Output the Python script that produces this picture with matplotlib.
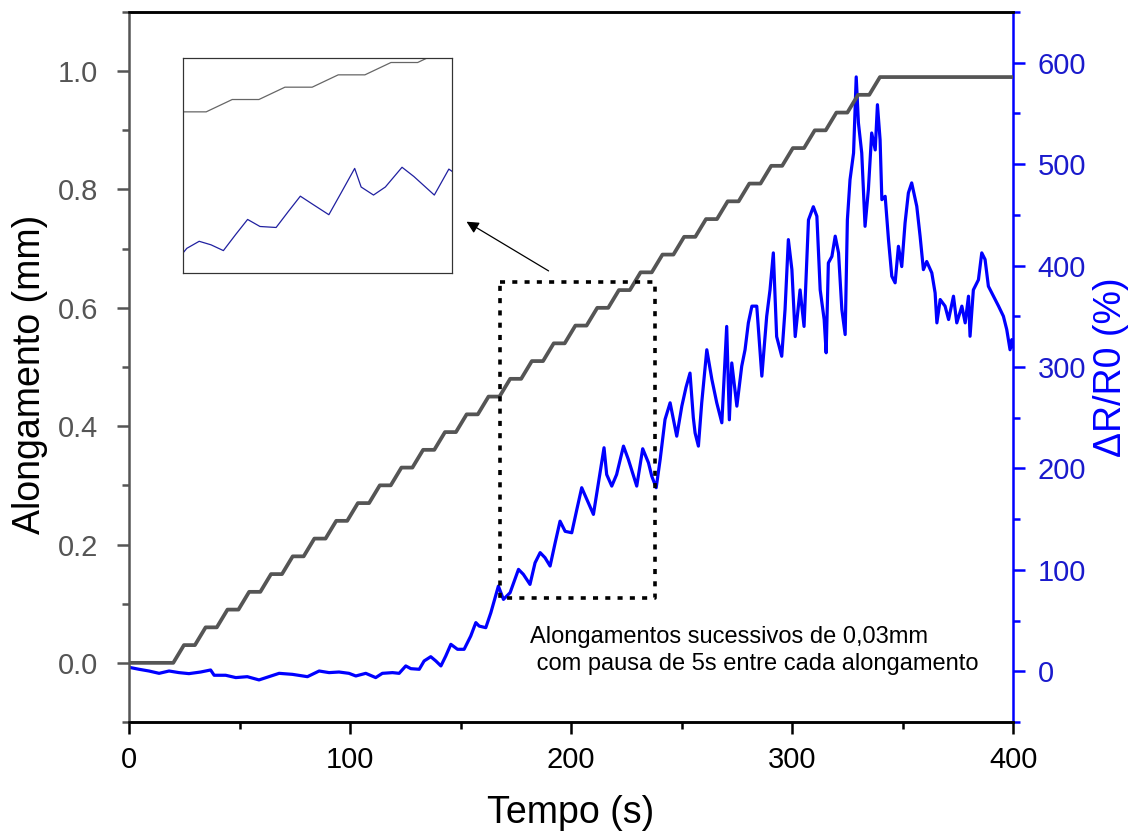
import numpy as np
import matplotlib
matplotlib.use('Agg')
import matplotlib.pyplot as plt
from matplotlib.ticker import MultipleLocator

plt.rcParams['font.family'] = ['Liberation Sans', 'DejaVu Sans']

# --- dados ---
# alongamento em degraus de 0,03 mm (inicio de cada degrau, s)
step_start = [20.0, 29.8, 39.7, 49.5, 59.4, 69.2, 79.0, 88.9, 98.7, 108.6,
              118.4, 128.2, 138.1, 147.9, 157.8, 167.6, 177.4, 187.3, 197.1, 207.0,
              216.8, 226.6, 236.5, 246.3, 256.2, 266.0, 275.8, 285.7, 295.5, 305.4,
              315.2, 325.0, 334.9]
step_level = [0.03, 0.06, 0.09, 0.12, 0.15, 0.18, 0.21, 0.24, 0.27, 0.30,
              0.33, 0.36, 0.39, 0.42, 0.45, 0.48, 0.51, 0.54, 0.57, 0.60,
              0.63, 0.66, 0.69, 0.72, 0.75, 0.78, 0.81, 0.84, 0.87, 0.90,
              0.93, 0.96, 0.99]
ramp_s = 4.84

# resposta eletrica dR/R0 (%)
time_s = [0, 0.8, 4.5, 9, 13.6, 18.1, 22.6, 27.1, 32.4, 36.9,
          38.5, 43.7, 48.3, 53.5, 58.8, 63.3, 67.9, 73.9, 80.7, 86,
          90.5, 95, 99.5, 102.6, 107.1, 111.6, 114.6, 119.2, 122.2, 125.2,
          127.5, 131.3, 133.5, 136.5, 138.8, 141.1, 143.3, 145.6, 148.6, 151.6,
          154.6, 156.9, 158.4, 161.4, 163.7, 165.2, 167.1, 169.4, 172.4, 176.2,
          178.4, 181.4, 183.7, 186, 188.2, 190.5, 192.8, 195, 197.3, 200.3,
          202.6, 204.8, 207.1, 210.1, 212.4, 214.9, 216.1, 218.4, 220.6, 223.7,
          225.9, 229.7, 232.4, 235, 236.5, 238.5, 240.3, 242.5, 244.8, 247.8,
          250.1, 252, 253.8, 255.3, 256.1, 257.6, 259.1, 261.4, 263.7, 265.9,
          268.2, 270.4, 271.6, 272.7, 275, 277.2, 278.7, 280.2, 281.8, 284,
          286.3, 288.5, 290, 291.5, 293, 295.3, 296.8, 298.3, 299.9, 301.4,
          303.6, 305.4, 307.4, 309.6, 311.2, 312.7, 314.5, 315.4, 316.4, 318,
          319.5, 321, 322.5, 324, 325, 326.2, 327.8, 329, 330, 331.5,
          333, 334.5, 336, 337.6, 338.6, 339.8, 340.6, 342.1, 343.6, 345.1,
          346.6, 348.1, 349.6, 351.1, 352.6, 354.1, 356.4, 357.9, 359.4, 360.9,
          363.2, 364.7, 365.5, 367, 369.2, 370.8, 373, 374.5, 376.8, 378.3,
          379.8, 380.5, 382, 384.3, 385.8, 387.3, 388.8, 391.1, 393.4, 395.6,
          397.1, 398.6, 399.4, 400]
dr_pct = [4, 3.6, 2, 0.3, -2, 0.3, -1.3, -2.3, -0.7, 1.3,
          -3.9, -3.9, -6.2, -5.3, -8.5, -5.3, -2, -3, -5.3, 0.3,
          -1.3, -0.7, -2, -4.6, -2, -6.2, -2, -1.3, -2, 5.3,
          2.6, 2, 10.2, 14.4, 10.2, 5.3, 15.1, 26.6, 21.7, 21.7,
          34.8, 48, 44.6, 43, 57.8, 69.3, 84, 70.9, 77.5, 100.5,
          95.6, 85.7, 107, 117, 112, 103.8, 126.8, 148, 138, 136.6,
          159.6, 181, 169.5, 154.7, 186, 220.4, 194, 182.6, 194, 222,
          208.9, 182.6, 219.4, 205.6, 192.4, 181, 208.9, 248.3, 264.7, 231.8,
          261.4, 280, 294, 250, 235, 222, 264.7, 317, 287.7, 264.7,
          245, 340, 248, 304, 261.4, 300.8, 317, 343.5, 360, 360,
          291, 350, 376, 412.5, 330, 310.6, 356.7, 425.6, 396, 330,
          376, 340, 445, 458, 448.6, 376, 346.8, 314, 402.6, 409,
          429, 412.5, 356.7, 332, 445, 484.7, 511, 586, 540.6, 511,
          438.7, 474.9, 530.7, 514, 558.6, 524, 465, 468.3, 425.6, 389.5,
          383, 419, 399, 442, 471.6, 481.5, 458.4, 429, 396, 404,
          392.8, 373, 343.5, 366.5, 360, 346.8, 369.8, 343.5, 360, 343.5,
          369.8, 330.3, 376, 386, 412.5, 406, 379.6, 369.8, 360, 350,
          337, 317, 327, 320]

# caixa tracejada (regiao ampliada no inset)
box_t = [167.9, 238.0]
box_mm = [0.110, 0.644]

note = 'Alongamentos sucessivos de 0,03mm\n com pausa de 5s entre cada alongamento'

# --- monta a curva em degraus ---
t_step = [0.0]
y_step = [0.0]
prev = 0.0
for t0, lvl in zip(step_start, step_level):
    t_step += [t0, t0 + ramp_s]
    y_step += [prev, lvl]
    prev = lvl
t_step.append(400.0)
y_step.append(prev)

GRAY = '#555555'
BLUE = '#0000ff'

fig = plt.figure(figsize=(11.39, 8.38), dpi=100)
ax = fig.add_axes([0.1133, 0.1384, 0.7762, 0.8473])
ax2 = ax.twinx()

ax.plot(t_step, y_step, color=GRAY, lw=2.7, zorder=3)
ax2.plot(time_s, dr_pct, color=BLUE, lw=2.3)
ax.set_zorder(ax2.get_zorder() + 1)
ax.patch.set_visible(False)

# caixa pontilhada
bx = [box_t[0], box_t[1], box_t[1], box_t[0], box_t[0]]
by = [box_mm[1], box_mm[1], box_mm[0], box_mm[0], box_mm[1]]
ax.plot(bx, by, color='black', lw=2.6, linestyle=(0, (1.4, 2.0)), zorder=4)

ax.set_xlim(0, 400)
ax.set_ylim(-0.1, 1.1)
ax2.set_ylim(-50, 650)

ax.xaxis.set_major_locator(MultipleLocator(100))
ax.xaxis.set_minor_locator(MultipleLocator(50))
ax.yaxis.set_major_locator(MultipleLocator(0.2))
ax.yaxis.set_minor_locator(MultipleLocator(0.1))
ax2.yaxis.set_major_locator(MultipleLocator(100))
ax2.yaxis.set_minor_locator(MultipleLocator(50))
ax.yaxis.set_major_formatter(plt.FormatStrFormatter('%.1f'))

for a in (ax, ax2):
    for s in a.spines.values():
        s.set_linewidth(1.8)
ax.spines['left'].set_color(GRAY)
ax2.spines['left'].set_visible(False)
ax2.spines['right'].set_color(BLUE)
ax.spines['right'].set_visible(False)

ax.tick_params(axis='x', which='major', length=8.5, width=1.8, pad=9, labelsize=21, colors='black')
ax.tick_params(axis='x', which='minor', length=4.7, width=1.8)
ax.tick_params(axis='y', which='major', length=8.5, width=1.8, pad=14, labelsize=21,
               color=GRAY, labelcolor=GRAY)
ax.tick_params(axis='y', which='minor', length=4.7, width=1.8, color=GRAY)
ax2.tick_params(axis='y', which='major', length=8.5, width=1.8, pad=9, labelsize=21,
                color=BLUE, labelcolor='#1a1acc')
ax2.tick_params(axis='y', which='minor', length=4.7, width=1.8, color=BLUE)

ax.set_xlabel('Tempo (s)', fontsize=27)
ax.set_ylabel('Alongamento (mm)', fontsize=27)
ax2.set_ylabel('ΔR/R0 (%)', fontsize=27, color=BLUE)
ax.xaxis.set_label_coords(0.5, -0.103)
ax.yaxis.set_label_coords(-0.092, 0.49)
ax2.yaxis.set_label_coords(1.0905, 0.5)

ax.text(181.4, 0.0625, note, fontsize=17, ha='left', va='top', linespacing=1.3)

# seta para o inset
ax.annotate('', xy=(151.6, 0.748), xytext=(190.9, 0.660),
            arrowprops=dict(arrowstyle='-|>', color='black', lw=0.9, mutation_scale=18))

# --- inset ---
ins = fig.add_axes([0.1607, 0.6742, 0.2362, 0.2566])
ins2 = ins.twinx()
ins.plot(t_step, y_step, color='#666666', lw=0.9)
ins2.plot(time_s, dr_pct, color='#2020a0', lw=0.9)
ins.set_xlim(183, 233)
ins.set_ylim(0.118, 0.641)
ins2.set_ylim(72, 377)
for a in (ins, ins2):
    a.set_xticks([])
    a.set_yticks([])
    for s in a.spines.values():
        s.set_linewidth(0.8)
        s.set_color('#333333')

fig.savefig('out.png', dpi=100)
